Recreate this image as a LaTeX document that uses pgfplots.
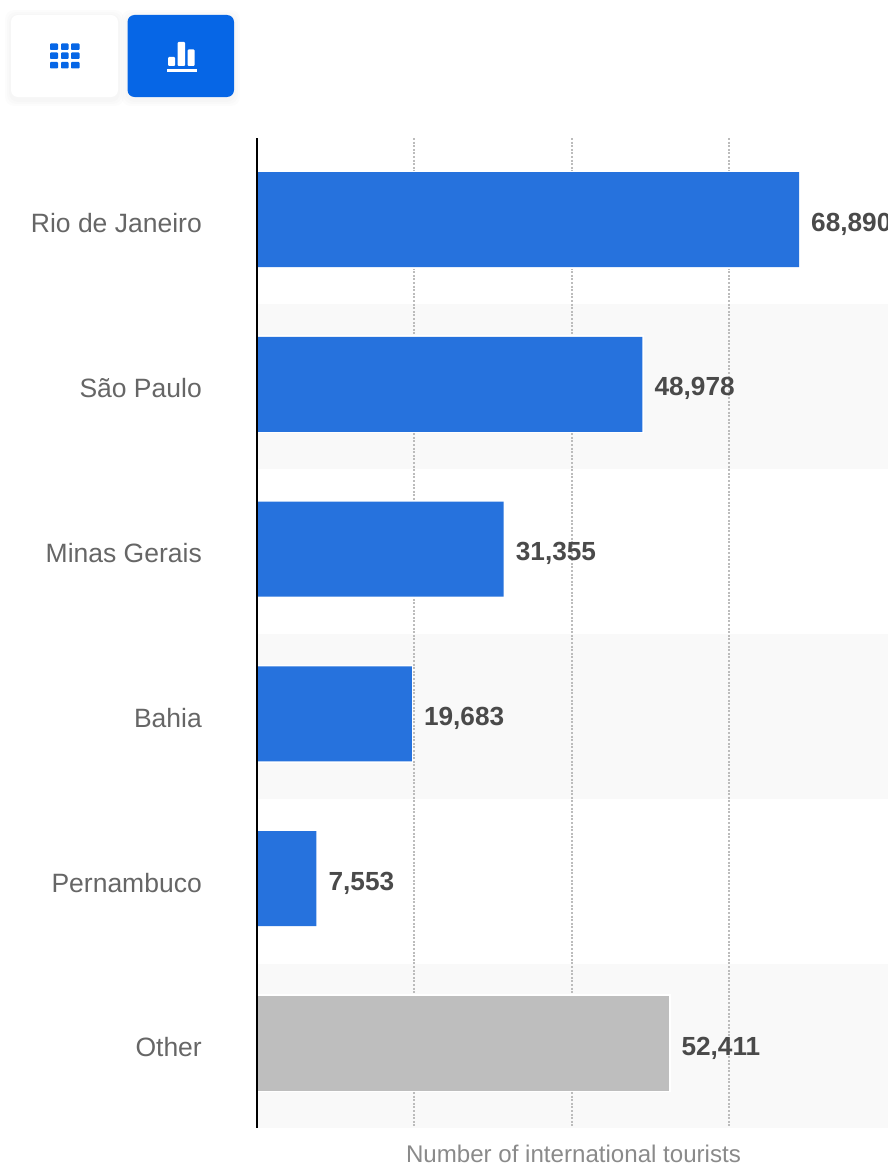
\documentclass[border=0pt]{standalone}
\usepackage{fontspec}
\setmainfont{Liberation Sans}
\usepackage{pgfplots}
\pgfplotsset{compat=1.18}
\definecolor{barblue}{HTML}{2672DD}
\definecolor{bargray}{HTML}{BEBEBE}
\definecolor{btnblue}{HTML}{0666E6}
\definecolor{stripe}{HTML}{F9F9F9}
\definecolor{gridgray}{HTML}{BCBCBC}
\definecolor{ticktext}{HTML}{666666}
\definecolor{valtext}{HTML}{4A4A4A}
\definecolor{titletext}{HTML}{8A8A8A}

% all lengths are reference pixels, y measured downwards
\newcommand{\px}[2]{(#1pt,-#2pt)}
\newcommand{\shadowbox}[4]{%
  \foreach \g in {6,4,2}{
    \fill[black,opacity=0.012,rounded corners=9pt] (#1pt-\g pt,-#2pt-1pt+\g pt) rectangle (#3pt+\g pt,-#4pt-3pt-\g pt);
  }}

\begin{document}
\begin{tikzpicture}[x=1pt,y=1pt]
  \path[use as bounding box] \px{0}{0} rectangle \px{888}{1164};

  % toggle buttons
  \shadowbox{11}{15}{118}{97}
  \shadowbox{127.5}{15}{234}{97}
  \fill[white,rounded corners=7pt] \px{11}{15} rectangle \px{118}{97};
  \fill[btnblue,rounded corners=7pt] \px{127.5}{15} rectangle \px{234}{97};
  \foreach \xa/\xb in {50/58,61/68.5,71/79.5}{
    \foreach \ya/\yb in {43.5/50,52.5/59,62/68.5}{
      \fill[btnblue,rounded corners=0.8pt] \px{\xa}{\ya} rectangle \px{\xb}{\yb};
    }}
  \fill[white,rounded corners=1pt] \px{168}{57} rectangle \px{175}{66};
  \fill[white,rounded corners=1pt] \px{177.5}{42} rectangle \px{185}{66};
  \fill[white,rounded corners=1pt] \px{187.5}{49.5} rectangle \px{194.5}{66};
  \fill[white] \px{167}{69} rectangle \px{196.5}{71.5};

  % alternating bands
  \fill[stripe] \px{257}{304} rectangle \px{888}{469};
  \fill[stripe] \px{257}{634} rectangle \px{888}{799};
  \fill[stripe] \px{257}{964} rectangle \px{888}{1128};

  \begin{axis}[
    at={(257pt,-1128pt)},
    anchor=south west,
    scale only axis,
    width=631pt,
    height=990pt,
    xbar,
    bar width=95pt,
    bar shift=0pt,
    xmin=0, xmax=80198,
    ymin=-0.4945, ymax=5.513,
    y dir=reverse,
    axis line style={draw=none},
    xtick={20000,40000,60000},
    xticklabel=\empty,
    scaled x ticks=false,
    xmajorgrids=true,
    major grid style={gridgray,line width=2pt,dash pattern=on 2pt off 1.6pt},
    ytick={0,1,2,3,4,5},
    yticklabels={Rio de Janeiro,São Paulo,Minas Gerais,Bahia,Pernambuco,Other},
    tick style={draw=none},
    major tick length=0pt,
    yticklabel style={font=\fontsize{26.5}{30}\selectfont,text=ticktext,inner sep=0pt,anchor=east,xshift=-55pt,yshift=-4pt},
    nodes near coords,
    nodes near coords style={font=\fontsize{26.2}{30}\selectfont\bfseries,text=valtext,inner sep=0pt,anchor=west,xshift=12pt,yshift=-4.5pt,
      /pgf/number format/.cd,fixed,1000 sep={,},assume math mode=true},
    clip=false,
  ]
    \addplot[draw=none,fill=barblue,preaction={draw=white,line width=3pt}] coordinates {(68890,0) (48978,1) (31355,2) (19683,3) (7553,4)};
    \addplot[draw=none,fill=bargray,preaction={draw=white,line width=3pt}] coordinates {(52411,5)};
  \end{axis}

  % y axis line goes over the bar edges
  \draw[black,line width=2pt] \px{257}{138} -- \px{257}{1128};
  \node[font=\fontsize{24.1}{28}\selectfont,text=titletext,inner sep=0pt,anchor=base] at \px{573.5}{1162} {Number of international tourists};
\end{tikzpicture}
\end{document}
